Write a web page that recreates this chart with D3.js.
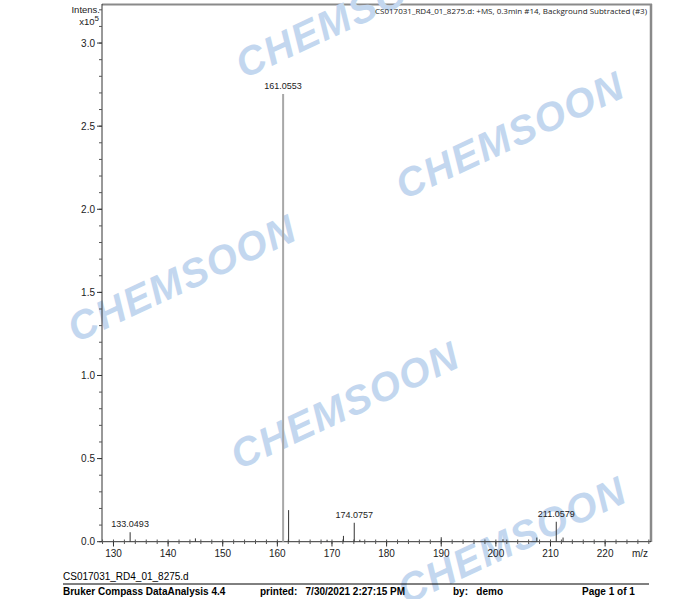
<!DOCTYPE html>
<html><head><meta charset="utf-8">
<script src="https://cdn.jsdelivr.net/npm/d3@7"></script>
<style>body{margin:0;background:#fff}svg{display:block}</style>
</head><body>
<script>
const peakMz = [133.0493, 145.0, 161.0553, 162.06, 169.1, 172.1, 174.0757, 175.1, 190.0, 201.3, 207.5, 211.0579, 212.3];
const peakInt = [0.057, 0.02, 2.694, 0.19, 0.012, 0.035, 0.114, 0.012, 0.027, 0.015, 0.025, 0.12, 0.025];
const labelled = ["133.0493", null, "161.0553", null, null, null, "174.0757", null, null, null, null, "211.0579", null];
const xTicks = [130, 140, 150, 160, 170, 180, 190, 200, 210, 220];
const yTicks = [0.0, 0.5, 1.0, 1.5, 2.0, 2.5, 3.0];
const title = "CS017031_RD4_01_8275.d: +MS, 0.3min #14, Background Subtracted (#3)";
const watermarks = [[350, 14], [510, 135], [182, 278], [345, 405], [512, 540]];

const W = 693, H = 599;
const svg = d3.select("body").append("svg").attr("width", W).attr("height", H);
const font = "Liberation Sans, Arial, sans-serif";

const x = d3.scaleLinear().domain([127.9, 228.4]).range([102, 651]);
const y = d3.scaleLinear().domain([0, 3.235]).range([541.7, 4]);

// frame top and right
svg.append("line").attr("x1", 102).attr("x2", 652).attr("y1", 4.5).attr("y2", 4.5).attr("stroke", "#8a8a8a").attr("stroke-width", 2);
svg.append("line").attr("x1", 651).attr("x2", 651).attr("y1", 4).attr("y2", 542).attr("stroke", "#8a8a8a").attr("stroke-width", 2.5);

// watermarks
svg.append("g").selectAll("text").data(watermarks).join("text")
  .attr("transform", d => `translate(${d[0]},${d[1]}) rotate(-25)`)
  .attr("text-anchor", "middle").attr("dominant-baseline", "central")
  .attr("font-family", "Liberation Sans, Arial, sans-serif").attr("font-weight", "bold").attr("font-style", "italic")
  .attr("font-size", 40).attr("fill", "#c3d7ef").attr("letter-spacing", 1.5)
  .text("CHEMSOON");

// y axis
const yAxis = svg.append("g").attr("transform", "translate(102,0)");
yAxis.append("line").attr("x1", 0).attr("x2", 0).attr("y1", 4).attr("y2", 542).attr("stroke", "#333");
yAxis.selectAll(".minor").data(d3.range(0, 3.21, 0.1)).join("line")
  .attr("x1", -3).attr("x2", 0).attr("y1", d => y(d)).attr("y2", d => y(d)).attr("stroke", "#555");
yAxis.selectAll(".major").data(yTicks).join("line")
  .attr("x1", -5).attr("x2", 0).attr("y1", d => y(d)).attr("y2", d => y(d)).attr("stroke", "#333");
yAxis.selectAll("text").data(yTicks).join("text")
  .attr("x", -7).attr("y", d => y(d)).attr("dy", "0.35em").attr("text-anchor", "end")
  .attr("font-family", font).attr("font-size", 10).attr("fill", "#222")
  .text(d => d.toFixed(1));

// x axis
const xAxis = svg.append("g");
xAxis.append("line").attr("x1", 102).attr("x2", 651).attr("y1", 541.7).attr("y2", 541.7).attr("stroke", "#333");
xAxis.selectAll(".minor").data(d3.range(128, 229, 2)).join("line")
  .attr("x1", d => x(d)).attr("x2", d => x(d)).attr("y1", 539.5).attr("y2", 544).attr("stroke", "#555");
xAxis.selectAll(".major").data(xTicks).join("line")
  .attr("x1", d => x(d)).attr("x2", d => x(d)).attr("y1", 541.7).attr("y2", 546.5).attr("stroke", "#333");
xAxis.selectAll("text").data(xTicks).join("text")
  .attr("x", d => x(d)).attr("y", 553).attr("dy", "0.35em").attr("text-anchor", "middle")
  .attr("font-family", font).attr("font-size", 10).attr("fill", "#222")
  .text(d => d);
svg.append("text").attr("x", 640).attr("y", 553).attr("dy", "0.35em").attr("text-anchor", "middle")
  .attr("font-family", font).attr("font-size", 10).attr("fill", "#222").text("m/z");

// axis title
svg.append("text").attr("x", 100).attr("y", 13).attr("text-anchor", "end")
  .attr("font-family", font).attr("font-size", 9.5).attr("fill", "#222").text("Intens.");
const t2 = svg.append("text").attr("x", 99).attr("y", 25).attr("text-anchor", "end")
  .attr("font-family", font).attr("font-size", 9.5).attr("fill", "#222");
t2.append("tspan").text("x10");
t2.append("tspan").attr("dy", -4).attr("font-size", 8).text("5");

// title
svg.append("text").attr("x", 647).attr("y", 14).attr("text-anchor", "end")
  .attr("font-family", "Open Sans, sans-serif").attr("font-size", 8).attr("fill", "#222").text(title);

// peaks
const data = peakMz.map((m, i) => ({m, v: peakInt[i], lab: labelled[i]}));
svg.append("g").selectAll("line").data(data).join("line")
  .attr("x1", d => x(d.m)).attr("x2", d => x(d.m))
  .attr("y1", y(0)).attr("y2", d => y(d.v))
  .attr("stroke", d => d.v > 1 ? "#a8a8a8" : "#333")
  .attr("stroke-width", d => d.v > 1 ? 2 : 1);
svg.append("g").selectAll("text").data(data.filter(d => d.lab)).join("text")
  .attr("x", d => x(d.m)).attr("y", d => y(d.v) - 5).attr("text-anchor", "middle")
  .attr("font-family", font).attr("font-size", 9).attr("fill", "#222")
  .text(d => d.lab);

// footer
const ff = "Liberation Sans Narrow, Arial Narrow, Liberation Sans, sans-serif";
svg.append("text").attr("x", 63).attr("y", 580).attr("font-family", ff).attr("font-size", 10).attr("fill", "#000").text("CS017031_RD4_01_8275.d");
svg.append("line").attr("x1", 63).attr("x2", 649).attr("y1", 584).attr("y2", 584).attr("stroke", "#000").attr("stroke-width", 1);
const foot = [[63, "Bruker Compass DataAnalysis 4.4"], [260, "printed:   7/30/2021 2:27:15 PM"], [453, "by:   demo"], [582, "Page 1 of 1"]];
svg.append("g").selectAll("text").data(foot).join("text")
  .attr("x", d => d[0]).attr("y", 595).attr("font-family", ff).attr("font-size", 10).attr("font-weight", "bold").attr("fill", "#000")
  .attr("xml:space", "preserve").style("white-space", "pre")
  .text(d => d[1]);
</script>
</body></html>
